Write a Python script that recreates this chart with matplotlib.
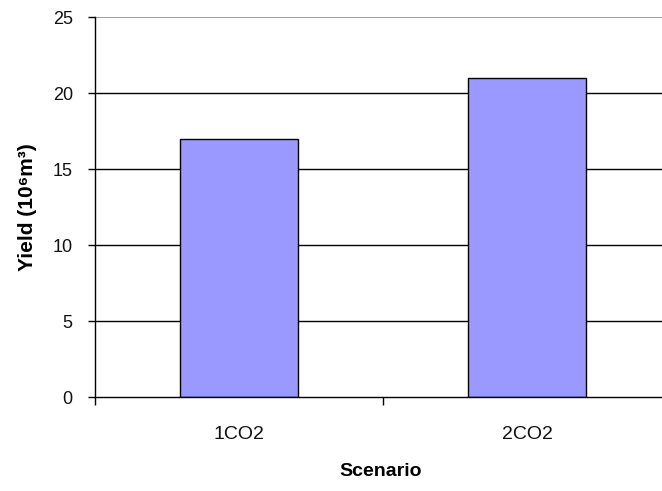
import matplotlib.pyplot as plt
from matplotlib.ticker import FixedLocator

plt.rcParams['font.family'] = ['Liberation Sans', 'DejaVu Sans']

scenarios = ["1CO2", "2CO2"]
yields = [17, 21]
y_ticks = [0, 5, 10, 15, 20, 25]

fig = plt.figure(figsize=(6.62, 4.91), dpi=100)
ax = fig.add_axes([95 / 662, 94 / 491, 576 / 662, 380 / 491])

for t in y_ticks[1:-1]:
    ax.axhline(t, color='black', lw=1.0, zorder=0)
ax.axhline(y_ticks[-1], color='#a0a0a0', lw=1.5, zorder=0)

x = list(range(len(scenarios)))
ax.bar(x, yields, width=0.41, color='#9999ff', edgecolor='black', linewidth=1.0, zorder=2)

ax.set_xlim(-0.5, len(scenarios) - 0.5)
ax.set_ylim(0, 25)
ax.set_yticks(y_ticks)
ax.set_xticks(x)
ax.set_xticklabels(scenarios)
ax.xaxis.set_minor_locator(FixedLocator([-0.5, 0.5, 1.5]))
ax.tick_params(axis='x', which='major', length=0, pad=21, labelsize=14, labelcolor='#111111')
ax.tick_params(axis='x', which='minor', length=6, width=1, direction='out')
ax.tick_params(axis='y', length=5, width=1, direction='out', labelsize=13, pad=11,
               labelcolor='#111111')

for s in ['top', 'right']:
    ax.spines[s].set_visible(False)
for s in ['left', 'bottom']:
    ax.spines[s].set_linewidth(1.0)
    ax.spines[s].set_zorder(3)

ax.set_ylabel('Yield (10⁶m³)', fontweight='bold', fontsize=15)
ax.yaxis.set_label_coords(-58 / 576, 0.5)
ax.set_xlabel('Scenario', fontweight='bold', fontsize=14)
ax.xaxis.set_label_coords(286 / 576, -66 / 380)

fig.savefig('out.png', dpi=100)
